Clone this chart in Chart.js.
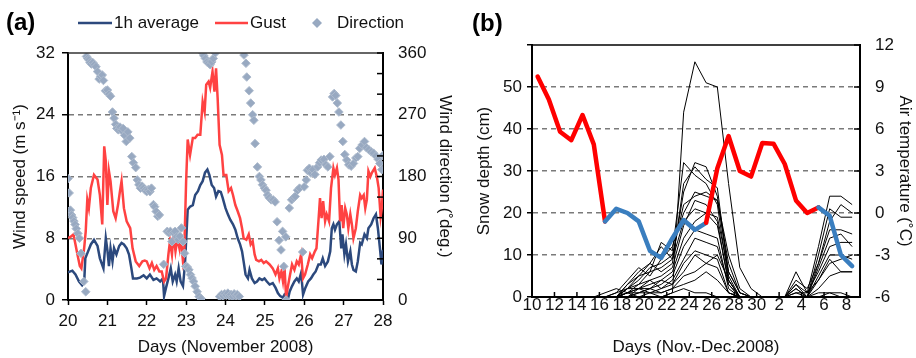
<!DOCTYPE html>
<html>
<head>
<meta charset="utf-8">
<script src="https://cdn.jsdelivr.net/npm/chart.js@4.4.1/dist/chart.umd.min.js"></script>
<style>
  body { margin: 0; background: #fff; }
  #wrap { position: relative; width: 916px; height: 358px; }
  canvas { position: absolute; top: 0; }
  #ca { left: 0; }
  #cb { left: 458px; }
</style>
</head>
<body>
<div id="wrap">
  <canvas id="ca" width="458" height="358"></canvas>
  <canvas id="cb" width="458" height="358"></canvas>
</div>
<script>
// (a) wind, 20-28 Nov 2008 : [day, value]
const avgObs = [[20.00,3.6],[20.11,3.8],[20.19,3.3],[20.28,2.4],[20.36,1.9],[20.41,2.2],[20.44,5.4],[20.51,6.3],[20.58,7.2],[20.66,7.8],[20.75,7.0],[20.81,5.4],[20.90,4.1],[20.96,8.0],[21.00,6.5],[21.04,4.4],[21.08,6.7],[21.13,5.0],[21.17,6.7],[21.23,5.9],[21.30,7.0],[21.36,7.4],[21.42,7.2],[21.49,6.7],[21.55,5.9],[21.61,4.1],[21.65,2.8],[21.75,2.8],[21.83,2.9],[21.92,3.2],
  [22.00,2.8],[22.08,3.3],[22.17,2.6],[22.25,2.8],[22.34,2.4],[22.41,2.8],[22.44,0.5],[22.49,1.6],[22.55,2.8],[22.61,4.1],[22.66,2.4],[22.72,3.3],[22.76,2.4],[22.81,4.1],[22.86,2.4],[22.92,1.8],[22.97,4.6],[23.04,11.7],[23.10,12.1],[23.17,12.3],[23.23,13.6],[23.30,14.1],[23.36,14.9],[23.42,15.4],[23.48,16.5],[23.54,16.9],[23.59,16.2],[23.65,14.9],[23.71,14.5],[23.76,13.4],[23.82,14.1],[23.88,14.0],[23.93,13.2],
  [24.00,11.9],[24.06,11.1],[24.12,10.4],[24.19,9.8],[24.25,9.1],[24.31,8.0],[24.37,7.2],[24.42,6.3],[24.46,5.0],[24.51,3.3],[24.57,2.8],[24.61,3.9],[24.67,2.8],[24.74,2.2],[24.80,2.4],[24.86,2.8],[24.93,2.6],[24.99,2.8],[25.05,2.4],[25.12,2.0],[25.20,2.2],[25.27,1.6],[25.33,0.9],[25.39,0.5],[25.46,0.3],[25.50,0.7],[25.54,0.5],[25.58,0.0],[25.63,1.1],[25.69,1.8],[25.75,2.4],[25.81,2.8],[25.86,2.4],[25.92,3.5],[25.97,0.7],
  [26.03,1.6],[26.10,2.4],[26.17,2.8],[26.23,3.3],[26.29,3.7],[26.36,4.6],[26.42,4.6],[26.47,5.4],[26.53,4.4],[26.60,5.0],[26.66,6.3],[26.70,9.3],[26.74,9.8],[26.78,9.1],[26.83,9.8],[26.89,10.2],[26.94,6.7],[26.97,8.5],[27.02,5.9],[27.06,7.2],[27.11,5.0],[27.17,6.3],[27.21,4.6],[27.25,3.9],[27.31,3.7],[27.36,5.0],[27.42,7.4],[27.46,7.2],[27.53,8.5],[27.59,8.0],[27.63,9.3],[27.70,9.8],[27.76,10.6],[27.82,11.1],[27.87,9.3],[27.93,6.3],[27.96,4.6],[28.00,6.5]];

const gustObs = [[20.00,8.0],[20.07,8.2],[20.14,8.5],[20.24,5.9],[20.30,4.4],[20.34,4.1],[20.41,6.7],[20.45,8.9],[20.49,13.0],[20.53,11.9],[20.58,14.5],[20.66,16.2],[20.75,15.6],[20.81,13.6],[20.87,9.8],[20.92,19.9],[20.96,18.0],[21.00,12.3],[21.04,16.7],[21.08,15.4],[21.15,11.5],[21.21,10.6],[21.27,12.3],[21.32,14.1],[21.36,15.4],[21.42,11.9],[21.49,10.2],[21.58,9.3],[21.64,6.7],[21.72,5.0],[21.81,4.4],[21.89,5.0],[21.95,5.1],
  [22.00,5.0],[22.07,4.1],[22.13,4.8],[22.19,3.9],[22.25,4.4],[22.32,3.7],[22.38,3.7],[22.44,2.4],[22.49,2.8],[22.55,5.9],[22.59,7.6],[22.64,5.9],[22.68,8.5],[22.73,6.3],[22.78,8.0],[22.83,6.7],[22.86,8.5],[22.92,5.0],[22.95,5.9],[23.00,15.4],[23.04,20.8],[23.10,18.8],[23.17,21.0],[23.23,21.0],[23.29,21.4],[23.36,21.4],[23.42,25.7],[23.47,24.4],[23.51,27.9],[23.57,28.3],[23.61,27.5],[23.67,29.6],[23.72,27.0],[23.76,30.0],[23.80,26.2],[23.85,20.1],[23.91,18.8],[23.95,16.2],
  [24.02,16.2],[24.08,14.1],[24.14,14.5],[24.19,13.6],[24.25,12.3],[24.31,11.5],[24.37,10.6],[24.42,9.3],[24.46,8.0],[24.53,7.8],[24.59,8.5],[24.64,7.2],[24.69,7.6],[24.74,5.9],[24.78,5.2],[24.85,5.0],[24.91,5.2],[24.97,4.8],[25.03,5.0],[25.12,4.6],[25.20,4.1],[25.27,3.3],[25.33,4.1],[25.37,2.8],[25.42,3.7],[25.46,2.4],[25.50,4.1],[25.54,0.3],[25.58,1.6],[25.64,3.3],[25.69,4.6],[25.75,3.9],[25.81,5.0],[25.86,4.6],[25.92,5.9],[25.97,2.8],
  [26.02,3.3],[26.09,4.6],[26.15,5.9],[26.20,5.4],[26.27,6.3],[26.31,6.7],[26.36,10.2],[26.40,13.2],[26.44,10.6],[26.48,12.8],[26.53,10.2],[26.57,11.1],[26.63,10.2],[26.68,14.5],[26.74,17.1],[26.78,16.2],[26.83,17.1],[26.87,15.6],[26.91,10.2],[26.95,12.3],[26.99,9.3],[27.04,11.9],[27.08,11.1],[27.12,9.3],[27.17,11.1],[27.21,9.8],[27.25,8.0],[27.31,9.3],[27.36,11.5],[27.42,13.6],[27.46,13.2],[27.51,13.6],[27.55,11.9],[27.59,13.0],[27.63,16.7],[27.68,16.0],[27.72,16.5],[27.79,17.1],[27.85,15.8],[27.89,14.5],[27.94,10.8],[27.97,11.9],[28.00,14.3]];

const dirObs = [[20.00,177],[20.03,156],[20.06,131],[20.09,124],[20.12,120],[20.15,115],[20.18,110],[20.21,104],[20.25,97],[20.29,90],[20.33,68],[20.40,27],[20.45,12],
  [20.47,355],[20.50,352],[20.53,350],[20.56,346],[20.59,344],[20.63,346],[20.67,343],[20.71,340],[20.75,333],[20.79,322],[20.83,326],[20.87,328],[20.90,320],[20.95,305],[21.00,306],[21.04,300],[21.08,297],
  [21.13,274],[21.17,265],[21.21,256],[21.24,250],[21.28,248],[21.32,252],[21.36,247],[21.40,250],[21.44,240],[21.48,231],[21.52,245],[21.57,236],[21.62,209],[21.66,200],[21.72,193],[21.76,175],[21.80,168],[21.84,163],[21.88,166],[21.92,163],[21.96,160],
  [22.00,158],[22.04,161],[22.08,158],[22.12,163],[22.17,139],[22.20,136],[22.24,129],[22.28,122],[22.32,124],[22.43,52],[22.52,100],[22.56,98],[22.60,100],[22.64,85],[22.68,98],[22.72,100],[22.76,92],[22.80,88],[22.84,93],[22.88,105],[22.92,85],[22.96,68],[22.99,49],
  [23.03,48],[23.07,44],[23.11,37],[23.15,32],[23.19,27],[23.23,20],[23.28,12],[23.33,5],[23.38,2],[23.42,360],[23.45,356],[23.49,352],[23.53,347],[23.57,345],[23.61,343],[23.65,347],[23.69,352],[23.74,360],
  [23.85,5],[23.90,8],[23.94,6],[23.98,9],[24.02,7],[24.06,10],[24.10,6],[24.14,8],[24.18,5],[24.22,9],[24.26,6],[24.30,8],[24.35,5],
  [24.47,357],[24.52,345],[24.54,325],[24.60,305],[24.64,287],[24.69,270],[24.72,262],[24.75,228],[24.81,194],[24.86,180],[24.90,175],[24.94,168],[24.99,163],[25.03,160],[25.07,153],[25.11,149],[25.16,146],[25.21,146],[25.26,143],
  [25.31,114],[25.36,87],[25.41,73],[25.45,100],[25.48,49],[25.53,92],[25.54,0],
  [25.62,134],[25.68,146],[25.73,149],[25.77,151],[25.83,160],[25.88,163],[25.96,70],[26.00,165],[26.05,175],[26.08,189],[26.13,192],[26.17,185],[26.22,190],[26.27,183],[26.34,194],[26.39,200],[26.43,204],[26.50,205],[26.55,197],[26.60,194],[26.65,209],
  [26.72,296],[26.76,301],[26.80,298],[26.84,287],[26.88,274],[26.93,255],[26.98,231],[27.03,212],[27.08,204],[27.13,197],[27.19,195],[27.25,199],[27.31,207],[27.36,209],[27.41,221],[27.47,226],[27.53,231],[27.58,222],[27.64,219],[27.70,216],[27.76,214],[27.82,210],[27.88,205],[27.92,199],[27.97,190],[28.00,211]];

// (b) daily values, 10 Nov .. 8 Dec 2008 (29 days)
const airTemp = [9.75, 8.1, 5.8, 5.2, 7.0, 4.9, -0.6, 0.3, 0.0, -0.6, -2.7, -3.2, -1.8, -0.5, -1.2,
  -0.7, 3.2, 5.5, 3.0, 2.6, 5.0, 4.95, 3.5, 0.9, 0.0, 0.4, -0.2, -3.0, -3.8];

const snowDepth = [
  [0,0,0,0,0,0,0,0,0,0,0,0,1,44,56,51,50,27,7,2,0,0,0,0,0,0,0,0,0],
  [0,0,0,0,0,0,0,0,2,5,8,12,9,25,32,31,24,6,1,0,0,0,0,6,1,12,24,24,22],
  [0,0,0,0,0,0,0,0,1,3,6,13,11,32,29,27,22,4,0,0,0,0,0,3,0,10,21,19,19],
  [0,0,0,0,0,0,0,0,3,6,8,6,8,27,31,28,26,5,0,0,0,0,0,2,0,8,18,22,20],
  [0,0,0,0,0,0,0,1,4,7,5,9,12,20,25,24,23,8,1,0,0,0,0,4,2,8,16,16,15],
  [0,0,0,0,0,0,0,0,2,4,7,8,10,22,24,25,23,10,2,0,0,0,0,2,0,7,14,15,12],
  [0,0,0,0,0,0,0,0,1,2,4,5,7,17,23,22,18,3,0,0,0,0,0,1,1,6,12,13,13],
  [0,0,0,0,0,0,0,0,3,5,6,7,9,18,21,20,19,6,1,0,0,0,0,0,0,5,10,10,9],
  [0,0,0,0,0,0,0,0,0,2,3,4,6,14,18,20,17,4,0,0,0,0,0,1,0,4,8,9,10],
  [0,0,0,0,0,0,0,0,1,1,2,3,5,12,16,15,14,2,0,0,0,0,0,3,1,4,9,6,6],
  [0,0,0,0,0,0,0,0,2,3,4,2,4,9,14,13,12,3,0,0,0,0,0,0,0,2,5,6,6],
  [0,0,0,0,0,0,0,0,0,1,2,4,3,8,11,10,9,1,0,0,0,0,0,0,0,1,1,1,0],
  [0,0,0,0,0,0,0,1,2,2,1,2,3,6,10,8,7,1,0,0,0,0,0,0,0,0,0,0,0],
  [0,0,0,0,0,0,0,0,1,2,2,1,2,5,6,8,10,4,0,0,0,0,0,0,0,0,0,0,0],
  [0,0,0,0,0,0,0,0,0,1,1,1,2,3,4,6,4,1,0,0,0,0,0,0,0,0,0,0,0],
  [0,0,0,0,0,0,1,2,1,0,1,0,1,2,1,1,0,0,0,0,0,0,0,0,0,0,1,0,0]
];

const FONT = "'Liberation Sans', Arial, sans-serif";
Chart.defaults.font.family = FONT;
Chart.defaults.font.size = 17;
Chart.defaults.color = '#111';

const pairs = obs => obs.map(p => ({ x: p[0], y: p[1] }));
const daily = arr => arr.map((v, i) => ({ x: i + 0.5, y: v }));
const dayLabel = v => (v + 10 <= 30 ? v + 10 : v - 20);
const dashGrid = (lo, hi) => c => (c.tick.value > lo && c.tick.value < hi) ? '#7a7a7a' : 'rgba(0,0,0,0)';

// top frame line, inward tick marks, panel letter and legend
const frame = {
  id: 'frame',
  afterDraw(chart, args, o) {
    const { ctx, chartArea: a } = chart;
    ctx.save();
    ctx.strokeStyle = o.top;
    ctx.lineWidth = 1.5;
    ctx.beginPath(); ctx.moveTo(a.left, a.top); ctx.lineTo(a.right, a.top); ctx.stroke();

    ctx.strokeStyle = '#000';
    (o.inner || []).forEach(id => {
      const s = chart.scales[id];
      s.ticks.forEach(t => {
        const p = s.getPixelForValue(t.value);
        ctx.beginPath();
        if (s.isHorizontal()) { ctx.moveTo(p, a.bottom); ctx.lineTo(p, a.bottom - 5); }
        else { ctx.moveTo(a.right, p); ctx.lineTo(a.right - 6, p); }
        ctx.stroke();
      });
    });

    ctx.fillStyle = '#000';
    ctx.textBaseline = 'middle';
    ctx.font = 'bold 24px ' + FONT;
    ctx.fillText(o.letter[0], o.letter[1], o.letter[2]);

    ctx.font = '17px ' + FONT;
    (o.legend || []).forEach(it => {
      const ds = chart.data.datasets[it.ds];
      if (it.kind === 'line') {
        ctx.strokeStyle = ds.borderColor;
        ctx.lineWidth = 2.5;
        ctx.beginPath(); ctx.moveTo(it.x0, it.y); ctx.lineTo(it.x1, it.y); ctx.stroke();
      } else {
        ctx.fillStyle = ds.backgroundColor;
        ctx.beginPath();
        ctx.moveTo(it.x0, it.y - 5); ctx.lineTo(it.x0 + 5, it.y);
        ctx.lineTo(it.x0, it.y + 5); ctx.lineTo(it.x0 - 5, it.y);
        ctx.closePath(); ctx.fill();
      }
      ctx.fillStyle = '#111';
      ctx.fillText(ds.label, it.tx, it.y);
    });
    ctx.restore();
  }
};

new Chart(document.getElementById('ca'), {
  type: 'line',
  data: {
    datasets: [
      { label: 'Direction', data: pairs(dirObs), yAxisID: 'y2', showLine: false,
        pointStyle: 'rectRot', pointRadius: 4.3, backgroundColor: '#98a9c1',
        borderColor: '#aebbcd', borderWidth: 1, order: 0 },
      { label: 'Gust', data: pairs(gustObs), yAxisID: 'y', borderColor: '#ff4242',
        borderWidth: 2.5, pointRadius: 0, tension: 0, order: 1 },
      { label: '1h average', data: pairs(avgObs), yAxisID: 'y', borderColor: '#2c497d',
        borderWidth: 2.5, pointRadius: 0, tension: 0, order: 2 }
    ]
  },
  options: {
    responsive: false,
    animation: false,
    layout: { padding: { top: 53, right: 0, bottom: 0, left: 0 } },
    plugins: {
      legend: { display: false },
      tooltip: { enabled: false },
      frame: {
        top: '#333', inner: ['y2'], letter: ['(a)', 6, 23],
        legend: [
          { ds: 2, kind: 'line', x0: 78, x1: 112, tx: 114, y: 23 },
          { ds: 1, kind: 'line', x0: 215, x1: 248, tx: 250, y: 23 },
          { ds: 0, kind: 'diamond', x0: 317, tx: 337, y: 23 }
        ]
      }
    },
    scales: {
      x: {
        type: 'linear', min: 20, max: 28,
        afterFit: s => { s.height = 58; },
        ticks: { stepSize: 1, padding: 6, maxRotation: 0, color: '#111' },
        grid: { drawOnChartArea: false, tickLength: 5, tickColor: '#000', tickWidth: 1.5 },
        border: { color: '#000', width: 2 },
        title: { display: true, text: 'Days (November 2008)', color: '#111', padding: { top: 0, bottom: 0 } }
      },
      y: {
        min: 0, max: 32,
        afterFit: s => { s.width = 68; },
        ticks: { stepSize: 8, padding: 7, color: '#111' },
        grid: { color: dashGrid(0, 32), lineWidth: 1.5, tickLength: 6, tickColor: '#000', tickWidth: 1.5 },
        border: { color: '#000', width: 2, dash: [5, 4] },
        title: { display: true, text: 'Wind speed (m s⁻¹)', color: '#111', padding: { top: 10, bottom: 0 } }
      },
      y2: {
        position: 'right', min: 0, max: 360,
        afterFit: s => { s.width = 75; },
        ticks: { stepSize: 30, padding: 15, autoSkip: false, color: '#111',
                 callback: v => (v % 90 === 0 ? v : '') },
        grid: { drawOnChartArea: false, drawTicks: false },
        border: { color: '#000', width: 2 },
        title: { display: true, text: 'Wind direction (˚deg.)', color: '#111', padding: { top: 3, bottom: 0 } }
      }
    }
  },
  plugins: [frame]
});

const blueDays = i => (i >= 6 && i < 15) || i >= 25;

new Chart(document.getElementById('cb'), {
  type: 'line',
  data: {
    datasets: [
      { label: 'Air temperature', data: daily(airTemp), yAxisID: 'y2', borderWidth: 4.5,
        borderColor: '#ff0000', pointRadius: 0, tension: 0, order: 0,
        borderJoinStyle: 'round', borderCapStyle: 'round',
        segment: { borderColor: c => (blueDays(c.p0DataIndex) ? '#3a7ebf' : '#ff0000') } }
    ].concat(snowDepth.map((d, k) => ({
      label: 'Snow depth ' + (k + 1), data: daily(d), yAxisID: 'y', borderColor: '#000',
      borderWidth: 1, pointRadius: 0, tension: 0, order: 1
    })))
  },
  options: {
    responsive: false,
    animation: false,
    layout: { padding: { top: 45, right: 0, bottom: 0, left: 0 } },
    plugins: {
      legend: { display: false },
      tooltip: { enabled: false },
      frame: { top: '#000', inner: ['x', 'y2'], letter: ['(b)', 14, 24] }
    },
    scales: {
      x: {
        type: 'linear', min: 0, max: 29.2,
        afterFit: s => { s.height = 61; },
        ticks: { stepSize: 2, includeBounds: false, autoSkip: false, maxRotation: 0, padding: 0,
                 font: { lineHeight: 1 }, color: '#111', callback: v => dayLabel(v) },
        grid: { drawOnChartArea: false, drawTicks: false },
        border: { color: '#000', width: 2 },
        title: { display: true, text: 'Days (Nov.-Dec.2008)', color: '#111', padding: { top: 5, bottom: 0 } }
      },
      y: {
        min: 0, max: 60,
        afterFit: s => { s.width = 74; },
        ticks: { stepSize: 10, padding: 5, color: '#111', callback: v => (v < 60 ? v : '') },
        grid: { color: dashGrid(0, 60), lineWidth: 1.5, tickLength: 5, tickColor: '#000', tickWidth: 1.5 },
        border: { color: '#000', width: 2, dash: [5, 4] },
        title: { display: true, text: 'Snow depth (cm)', color: '#111', padding: { top: 16, bottom: 0 } }
      },
      y2: {
        position: 'right', min: -6, max: 12,
        afterFit: s => { s.width = 56; },
        ticks: { stepSize: 3, padding: 15, color: '#111' },
        grid: { drawOnChartArea: false, drawTicks: false },
        border: { color: '#000', width: 2 },
        title: { display: true, text: 'Air temperature (˚C)', color: '#111', padding: { top: 1, bottom: 0 } }
      }
    }
  },
  plugins: [frame]
});
</script>
</body>
</html>
